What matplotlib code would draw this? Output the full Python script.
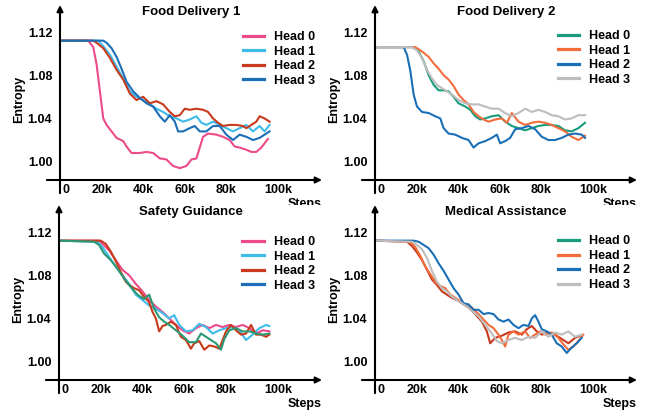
import matplotlib
matplotlib.use("Agg")
import matplotlib.pyplot as plt
from matplotlib.lines import Line2D

plt.rcParams['font.family'] = ['Liberation Sans', 'DejaVu Sans']
plt.rcParams['font.weight'] = 'bold'

# ---------------- data (steps in thousands, entropy) ----------------
TITLES = ["Food Delivery 1", "Food Delivery 2", "Safety Guidance", "Medical Assistance"]
HEAD_LABELS = ["Head 0", "Head 1", "Head 2", "Head 3"]
XTICK_LABELS = ["0", "20k", "40k", "60k", "80k", "100k"]
XTICK_POS = [3, 20, 40, 60, 80, 105]
YTICKS = [1.00, 1.04, 1.08, 1.12]
YTICK_LABELS = ["1.00", "1.04", "1.08", "1.12"]

# Food Delivery 1
FD1_H0_X = [0, 13.6, 16, 17.6, 19.2, 20.8, 22.4, 24.8, 27.2, 30.4, 32, 34.4, 38.4, 41.6, 44.8, 48, 51.2, 54.4, 57.6, 60.8, 63.2, 65.6, 67.2, 68.8, 71.2, 75.2, 78.4, 81.6, 84, 86.4, 89.6, 92, 94.4, 96.8, 99.2, 100]
FD1_H0_Y = [1.112, 1.112, 1.106, 1.090, 1.065, 1.040, 1.034, 1.028, 1.022, 1.019, 1.014, 1.008, 1.008, 1.009, 1.008, 1.003, 1.002, 0.996, 0.994, 0.996, 1.002, 1.003, 1.013, 1.023, 1.026, 1.025, 1.023, 1.020, 1.014, 1.013, 1.011, 1.009, 1.009, 1.013, 1.019, 1.021]
FD1_H1_X = [0, 18.4, 20.8, 24, 27.2, 30.4, 33.6, 36.8, 40, 43.2, 46.4, 49.6, 52.8, 56, 59.2, 62.4, 65.6, 68, 70.4, 73.6, 76.8, 80, 83.2, 86.4, 89.6, 92.8, 96, 98.4, 100.8]
FD1_H1_Y = [1.112, 1.112, 1.107, 1.099, 1.088, 1.077, 1.065, 1.060, 1.057, 1.053, 1.049, 1.046, 1.042, 1.040, 1.037, 1.039, 1.042, 1.036, 1.034, 1.037, 1.034, 1.031, 1.028, 1.031, 1.034, 1.028, 1.033, 1.028, 1.034]
FD1_H2_X = [0, 16, 17.6, 20.8, 24, 27.2, 30.4, 33.6, 36.8, 40, 43.2, 46.4, 49.6, 52.8, 55.2, 57.6, 60, 62.4, 65.6, 68.8, 71.2, 73.6, 76, 78.4, 81.6, 84.8, 88, 89.6, 92, 94.4, 96, 98.4, 100.8]
FD1_H2_Y = [1.112, 1.112, 1.110, 1.105, 1.096, 1.085, 1.076, 1.063, 1.057, 1.060, 1.054, 1.056, 1.053, 1.046, 1.042, 1.043, 1.049, 1.048, 1.049, 1.048, 1.046, 1.040, 1.036, 1.033, 1.034, 1.034, 1.033, 1.031, 1.034, 1.037, 1.042, 1.040, 1.037]
FD1_H3_X = [0, 20.8, 22.4, 24.8, 27.2, 29.6, 32, 35.2, 38.4, 41.6, 44.8, 48, 50.4, 52.8, 55.2, 56.8, 59.2, 62.4, 64.8, 67.2, 70.4, 73.6, 76.8, 80, 83.2, 86.4, 89.6, 92.8, 96, 98.4, 100.8]
FD1_H3_Y = [1.112, 1.112, 1.110, 1.105, 1.097, 1.086, 1.074, 1.065, 1.059, 1.054, 1.051, 1.042, 1.037, 1.043, 1.037, 1.028, 1.028, 1.031, 1.033, 1.028, 1.028, 1.033, 1.033, 1.025, 1.020, 1.025, 1.023, 1.020, 1.022, 1.025, 1.028]

# Food Delivery 2
FD2_H0_X = [0, 18.6, 21, 23.4, 25.8, 28.2, 30.6, 33, 35.4, 37.8, 40.2, 43.4, 45.8, 48.2, 50.6, 53, 56.2, 59.4, 62.6, 65.8, 69, 72.2, 75.4, 78.6, 81.8, 85, 88.2, 91.4, 94.6, 97.8, 101]
FD2_H0_Y = [1.106, 1.106, 1.102, 1.093, 1.080, 1.071, 1.066, 1.066, 1.065, 1.060, 1.054, 1.051, 1.048, 1.042, 1.039, 1.040, 1.042, 1.043, 1.037, 1.033, 1.031, 1.029, 1.031, 1.033, 1.034, 1.034, 1.033, 1.029, 1.028, 1.031, 1.036]
FD2_H1_X = [0, 19.4, 22.6, 25.8, 28.2, 30.6, 33, 35.4, 37.8, 40.2, 42.6, 45, 47.4, 49.8, 52.2, 54.6, 57.8, 61, 63.4, 65.8, 69, 72.2, 75.4, 78.6, 81.8, 85, 88.2, 91.4, 94.6, 97.8, 101]
FD2_H1_Y = [1.106, 1.106, 1.102, 1.097, 1.091, 1.086, 1.080, 1.076, 1.070, 1.062, 1.057, 1.053, 1.046, 1.042, 1.039, 1.037, 1.039, 1.040, 1.036, 1.045, 1.037, 1.034, 1.036, 1.037, 1.036, 1.034, 1.031, 1.028, 1.023, 1.020, 1.024]
FD2_H2_X = [0, 13.8, 15.4, 17, 18.6, 20.2, 22.6, 25.8, 29, 31.4, 33, 35.4, 38.6, 41.8, 45, 47.4, 49.8, 53, 56.2, 58.6, 60.2, 62.6, 65, 67.4, 70.6, 73.8, 77, 80.2, 83.4, 86.6, 89.8, 93, 96.2, 99.4, 101]
FD2_H2_Y = [1.106, 1.106, 1.099, 1.084, 1.062, 1.051, 1.046, 1.045, 1.042, 1.040, 1.031, 1.026, 1.025, 1.022, 1.020, 1.013, 1.017, 1.019, 1.022, 1.025, 1.017, 1.019, 1.022, 1.030, 1.031, 1.033, 1.030, 1.023, 1.020, 1.020, 1.022, 1.025, 1.026, 1.025, 1.022]
FD2_H3_X = [0, 17.8, 20.2, 22.6, 25, 27.4, 29.8, 32.2, 34.6, 37, 40.2, 43.4, 46.6, 49.8, 53, 56.2, 59.4, 62.6, 65.8, 69, 72.2, 75.4, 78.6, 81.8, 85, 88.2, 91.4, 94.6, 97.8, 101]
FD2_H3_Y = [1.106, 1.106, 1.103, 1.096, 1.085, 1.077, 1.071, 1.068, 1.065, 1.062, 1.057, 1.054, 1.053, 1.053, 1.051, 1.049, 1.049, 1.045, 1.042, 1.045, 1.049, 1.046, 1.048, 1.046, 1.043, 1.042, 1.039, 1.040, 1.043, 1.043]

# Safety Guidance
SG_H0_X = [0, 19.2, 20.8, 24, 27.2, 30.4, 33.6, 36.8, 40, 43.2, 46.4, 49.6, 52.8, 56, 59.2, 62.4, 65.6, 68.8, 72, 75.2, 78.4, 81.6, 84.8, 88, 91.2, 94.4, 97.6, 100.8]
SG_H0_Y = [1.112, 1.112, 1.109, 1.103, 1.094, 1.085, 1.080, 1.072, 1.065, 1.057, 1.051, 1.046, 1.040, 1.034, 1.029, 1.026, 1.031, 1.034, 1.031, 1.034, 1.032, 1.034, 1.032, 1.034, 1.031, 1.026, 1.029, 1.028]
SG_H1_X = [0, 18.4, 20.8, 24, 27.2, 30.4, 33.6, 36.8, 40, 43.2, 46.4, 49.6, 52.8, 55.2, 57.6, 60.8, 64, 67.2, 70.4, 73.6, 76.8, 80, 83.2, 86.4, 89.6, 92.8, 96, 99.2, 100.8]
SG_H1_Y = [1.112, 1.111, 1.106, 1.097, 1.088, 1.080, 1.072, 1.062, 1.057, 1.052, 1.049, 1.045, 1.040, 1.043, 1.034, 1.028, 1.029, 1.035, 1.032, 1.026, 1.029, 1.031, 1.032, 1.029, 1.020, 1.025, 1.031, 1.034, 1.033]
SG_H2_X = [0, 20, 22.4, 24.8, 27.2, 29.6, 32, 33.6, 36, 38.4, 40.8, 43.2, 44.8, 46.4, 48, 49.6, 51.2, 53.6, 56, 58.4, 60.8, 63.2, 64.8, 67.2, 69.6, 72, 74.4, 76.8, 78.4, 80, 82.4, 84.8, 87.2, 89.6, 92, 94.4, 96.8, 99.2, 100.8]
SG_H2_Y = [1.112, 1.112, 1.109, 1.102, 1.093, 1.083, 1.074, 1.071, 1.068, 1.066, 1.060, 1.055, 1.046, 1.040, 1.028, 1.033, 1.034, 1.037, 1.034, 1.023, 1.020, 1.012, 1.017, 1.019, 1.011, 1.015, 1.014, 1.012, 1.020, 1.028, 1.034, 1.029, 1.025, 1.026, 1.034, 1.025, 1.025, 1.023, 1.025]
SG_H3_X = [0, 16.8, 19.2, 21.6, 24.8, 28, 31.2, 34.4, 37.6, 40.8, 43.2, 45.6, 48, 50.4, 52.8, 56, 59.2, 62.4, 65.6, 68, 70.4, 72.8, 75.2, 77.6, 79.2, 81.6, 84.8, 88, 91.2, 94.4, 97.6, 100.8]
SG_H3_Y = [1.112, 1.111, 1.108, 1.100, 1.094, 1.086, 1.077, 1.069, 1.062, 1.058, 1.062, 1.049, 1.041, 1.037, 1.034, 1.029, 1.024, 1.018, 1.018, 1.026, 1.023, 1.020, 1.017, 1.011, 1.021, 1.029, 1.031, 1.028, 1.028, 1.026, 1.025, 1.026]

# Medical Assistance
MA_H0_X = [0, 15.4, 17.8, 20.2, 22.6, 25, 27.4, 29.8, 32.2, 34.6, 37, 39.4, 41.8, 45, 48.2, 51.4, 53.8, 55.4, 57.8, 61, 64.2, 67.4, 70.6, 73, 75.4, 77.8, 80.2, 83.4, 86.6, 89.8, 93, 96.2, 98.6]
MA_H0_Y = [1.112, 1.111, 1.107, 1.101, 1.094, 1.085, 1.076, 1.071, 1.065, 1.062, 1.059, 1.057, 1.054, 1.050, 1.044, 1.037, 1.028, 1.017, 1.022, 1.024, 1.027, 1.028, 1.025, 1.030, 1.033, 1.028, 1.025, 1.027, 1.025, 1.021, 1.017, 1.022, 1.024]
MA_H1_X = [0, 17, 19.4, 21.8, 24.2, 26.6, 29, 31.4, 33.8, 36.2, 38.6, 41, 43.4, 46.6, 49.8, 52.2, 54.6, 57, 59.4, 61, 62.6, 64.2, 66.6, 69, 72.2, 74.6, 77, 79.4, 81.8, 85, 88.2, 90.6, 93, 95.4, 97.8, 100.2]
MA_H1_Y = [1.112, 1.111, 1.106, 1.098, 1.088, 1.081, 1.074, 1.070, 1.068, 1.062, 1.059, 1.056, 1.053, 1.050, 1.044, 1.039, 1.034, 1.031, 1.025, 1.020, 1.014, 1.025, 1.028, 1.025, 1.028, 1.022, 1.025, 1.028, 1.025, 1.027, 1.022, 1.016, 1.011, 1.014, 1.019, 1.025]
MA_H2_X = [0, 18.6, 21, 23.4, 25.8, 28.2, 30.6, 33, 35.4, 37.8, 40.2, 42.6, 45, 47.4, 49.8, 52.2, 54.6, 57, 59.4, 61.8, 64.2, 66.6, 69, 71.4, 73.8, 75.4, 77, 78.6, 80.2, 82.6, 85, 87.4, 89.8, 92.2, 94.6, 97, 99.4]
MA_H2_Y = [1.112, 1.112, 1.111, 1.108, 1.105, 1.099, 1.091, 1.084, 1.076, 1.068, 1.062, 1.054, 1.053, 1.048, 1.048, 1.044, 1.045, 1.044, 1.039, 1.037, 1.039, 1.034, 1.031, 1.034, 1.033, 1.040, 1.043, 1.037, 1.030, 1.028, 1.025, 1.017, 1.014, 1.008, 1.013, 1.017, 1.022]
MA_H3_X = [0, 17.8, 20.2, 22.6, 25, 27.4, 29.8, 32.2, 34.6, 37, 39.4, 41.8, 44.2, 46.6, 49.8, 53, 56.2, 58.6, 61, 64.2, 67.4, 70.6, 73.8, 77, 80.2, 83.4, 86.6, 89.8, 93, 96.2, 99.4]
MA_H3_Y = [1.112, 1.111, 1.108, 1.104, 1.096, 1.084, 1.074, 1.068, 1.065, 1.060, 1.057, 1.054, 1.051, 1.047, 1.042, 1.034, 1.026, 1.019, 1.017, 1.020, 1.022, 1.020, 1.023, 1.022, 1.028, 1.023, 1.027, 1.025, 1.028, 1.023, 1.025]

# ---------------- styles ----------------
PINK, LBLUE, RED, BLUE = "#ec4a88", "#3fbbea", "#c93a1c", "#1b6fb6"
TEAL, ORANGE, GRAY = "#1a9b7d", "#f36d3c", "#bdbdbd"
GREEN = "#2a9872"

panels = [
    dict(title=TITLES[0], rect=(60, 180, 5, 322),
         xs=[FD1_H0_X, FD1_H1_X, FD1_H2_X, FD1_H3_X], ys=[FD1_H0_Y, FD1_H1_Y, FD1_H2_Y, FD1_H3_Y],
         line_colors=[PINK, LBLUE, RED, BLUE], leg_colors=[PINK, LBLUE, RED, BLUE], leg_top=0.85),
    dict(title=TITLES[1], rect=(375, 180, 5, 637),
         xs=[FD2_H0_X, FD2_H1_X, FD2_H2_X, FD2_H3_X], ys=[FD2_H0_Y, FD2_H1_Y, FD2_H2_Y, FD2_H3_Y],
         line_colors=[TEAL, ORANGE, BLUE, GRAY], leg_colors=[TEAL, ORANGE, BLUE, GRAY], leg_top=0.856),
    dict(title=TITLES[2], rect=(59, 380, 205, 322),
         xs=[SG_H0_X, SG_H1_X, SG_H2_X, SG_H3_X], ys=[SG_H0_Y, SG_H1_Y, SG_H2_Y, SG_H3_Y],
         line_colors=[PINK, LBLUE, RED, GREEN], leg_colors=[PINK, LBLUE, RED, BLUE], leg_top=0.822),
    dict(title=TITLES[3], rect=(375, 380, 205, 637),
         xs=[MA_H0_X, MA_H1_X, MA_H2_X, MA_H3_X], ys=[MA_H0_Y, MA_H1_Y, MA_H2_Y, MA_H3_Y],
         line_colors=[RED, ORANGE, BLUE, GRAY], leg_colors=[TEAL, ORANGE, BLUE, GRAY], leg_top=0.826),
]

W, H = 656, 420
fig = plt.figure(figsize=(W / 100, H / 100), dpi=100)

for p in panels:
    left, axis_y, top, right = p["rect"]
    ax = fig.add_axes([left / W, (H - axis_y) / H, (right - left) / W, (axis_y - top) / H])
    for x, y, c in zip(p["xs"], p["ys"], p["line_colors"]):
        ax.plot(x, y, color=c, lw=1.5, solid_joinstyle="round")
    ax.set_xlim(0, 126)
    ax.set_ylim(0.983, 1.145)
    for s in ax.spines.values():
        s.set_visible(False)
    ax.set_xticks(XTICK_POS)
    ax.set_xticklabels(XTICK_LABELS, fontsize=9, fontweight="bold")
    ax.set_yticks(YTICKS)
    ax.set_yticklabels(YTICK_LABELS, fontsize=9, fontweight="bold")
    ax.tick_params(axis="both", length=0)
    ax.tick_params(axis="x", pad=3)
    ax.tick_params(axis="y", pad=5.5)
    # axes with arrows
    ap = dict(arrowstyle="-|>", color="black", lw=1.5, mutation_scale=9, shrinkA=0, shrinkB=0)
    ax.annotate("", xy=(1.0, 0), xytext=(-0.05, 0), xycoords="axes fraction",
                textcoords="axes fraction", arrowprops=ap, annotation_clip=False)
    ax.annotate("", xy=(0, 1.0), xytext=(0, -0.075), xycoords="axes fraction",
                textcoords="axes fraction", arrowprops=ap, annotation_clip=False)
    ax.text(0.5, 0.958, p["title"], transform=ax.transAxes, ha="center", va="center",
            fontsize=9.5, fontweight="bold")
    ax.text(-0.157, 0.463, "Entropy", transform=ax.transAxes, rotation=90,
            ha="center", va="center", fontsize=9, fontweight="bold")
    ax.text(0.935, -0.135, "Steps", transform=ax.transAxes, ha="center", va="center",
            fontsize=9, fontweight="bold")
    handles = [Line2D([0], [0], color=c, lw=2.3) for c in p["leg_colors"]]
    ax.legend(handles, HEAD_LABELS, loc="upper left", bbox_to_anchor=(0.697, p["leg_top"]),
              frameon=False, handlelength=1.7, handletextpad=0.8,
              labelspacing=0.2, borderpad=0, borderaxespad=0,
              prop=dict(weight="bold", size=9))

fig.savefig("out.png", dpi=100)
